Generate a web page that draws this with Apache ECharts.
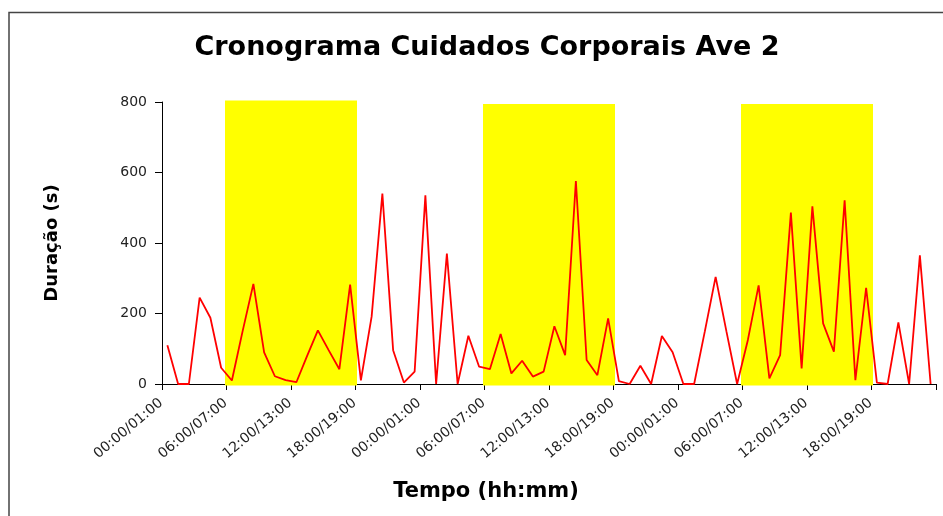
<!DOCTYPE html>
<html>
<head>
<meta charset="utf-8">
<script src="https://cdn.jsdelivr.net/npm/echarts@6/dist/echarts.min.js"></script>
<style>html,body{margin:0;padding:0;background:#fff;}#c{width:943px;height:516px;}</style>
</head>
<body>
<div id="c"></div>
<script>
// Hour labels for one day (repeated for the three days of the record)
const hourLabels = [
  '00:00/01:00','01:00/02:00','02:00/03:00','03:00/04:00','04:00/05:00','05:00/06:00',
  '06:00/07:00','07:00/08:00','08:00/09:00','09:00/10:00','10:00/11:00','11:00/12:00',
  '12:00/13:00','13:00/14:00','14:00/15:00','15:00/16:00','16:00/17:00','17:00/18:00',
  '18:00/19:00','19:00/20:00','20:00/21:00','21:00/22:00','22:00/23:00','23:00/00:00'
];
const categories = hourLabels.concat(hourLabels, hourLabels);

// Duration of body-care behaviour per hour (s)
const durationDay1 = [110, 0, 0, 245, 188, 46, 10, 150, 284, 90, 22, 11, 5, 80, 152, 96, 42, 282, 10, 191, 540, 96, 4, 35];
const durationDay2 = [535, 0, 370, 0, 137, 49, 42, 142, 30, 66, 21, 35, 164, 82, 576, 68, 25, 186, 8, 0, 52, 0, 136, 90];
const durationDay3 = [0, 0, 150, 304, 150, 0, 125, 280, 16, 82, 486, 44, 504, 172, 92, 521, 11, 273, 4, 0, 175, 0, 365, 0];
const duration = durationDay1.concat(durationDay2, durationDay3);

// Light periods (yellow blocks): first hour index, last hour index, height (s)
const lightStart = [6, 30, 54];
const lightEnd = [17, 41, 65];
const lightHeight = [800, 790, 790];
const lightBlocks = lightStart.map((s, i) => [s, lightEnd[i], lightHeight[i]]);

const yTicks = { min: 0, max: 800, interval: 200 };

const chart = echarts.init(document.getElementById('c'), null, { renderer: 'canvas' });
const FONT = '"DejaVu Sans", sans-serif';
chart.setOption({
  animation: false,
  backgroundColor: '#ffffff',
  title: {
    text: 'Cronograma Cuidados Corporais Ave 2',
    left: 482,
    textAlign: 'center',
    top: 29,
    textStyle: { fontFamily: FONT, fontWeight: 'bold', fontSize: 27, color: '#000' }
  },
  grid: { left: 162, right: 7, top: 102, bottom: 132, containLabel: false },
  xAxis: {
    type: 'category',
    data: categories,
    boundaryGap: true,
    axisLine: { show: true, lineStyle: { color: '#000', width: 1 } },
    axisTick: { show: true, interval: 5, length: 6, lineStyle: { color: '#000' } },
    axisLabel: {
      interval: 5,
      rotate: 40,
      margin: 12,
      padding: [0, 8, 0, 0],
      fontFamily: FONT,
      fontSize: 14,
      color: '#222'
    },
    splitLine: { show: false }
  },
  yAxis: {
    type: 'value',
    min: yTicks.min,
    max: yTicks.max,
    interval: yTicks.interval,
    axisLine: { show: true, lineStyle: { color: '#000', width: 1 } },
    axisTick: { show: true, length: 7, lineStyle: { color: '#000' } },
    axisLabel: { margin: 15, fontFamily: FONT, fontSize: 14, color: '#222' },
    splitLine: { show: false }
  },
  graphic: [
    {
      type: 'rect',
      shape: { x: 9, y: 12.5, width: 1000, height: 600 },
      style: { fill: 'none', stroke: '#444', lineWidth: 1.5 },
      silent: true
    },
    {
      type: 'text',
      x: 52, y: 243,
      rotation: Math.PI / 2,
      style: { text: 'Duração (s)', font: 'bold 18px "DejaVu Sans", sans-serif', fill: '#000', align: 'center', verticalAlign: 'middle' }
    },
    {
      type: 'text',
      x: 486, y: 492,
      style: { text: 'Tempo (hh:mm)', font: 'bold 21px "DejaVu Sans", sans-serif', fill: '#000', align: 'center', verticalAlign: 'middle' }
    }
  ],
  series: [
    {
      name: 'Fotoperíodo',
      type: 'custom',
      data: lightBlocks,
      encode: { x: [0, 1], y: 2 },
      z: 1,
      renderItem: function (params, api) {
        const band = api.size([1, 0])[0];
        const p0 = api.coord([api.value(0), api.value(2)]);
        const p1 = api.coord([api.value(1), 0]);
        const x0 = p0[0] - band / 2;
        const x1 = p1[0] + band / 2;
        return {
          type: 'rect',
          shape: { x: x0, y: p0[1], width: x1 - x0, height: p1[1] - p0[1] },
          style: { fill: '#ffff00', stroke: '#ffff00', lineWidth: 3 }
        };
      }
    },
    {
      name: 'Duração',
      type: 'line',
      data: duration,
      symbol: 'none',
      lineStyle: { color: '#ff0000', width: 1.8 },
      z: 3
    }
  ]
});
</script>
</body>
</html>
